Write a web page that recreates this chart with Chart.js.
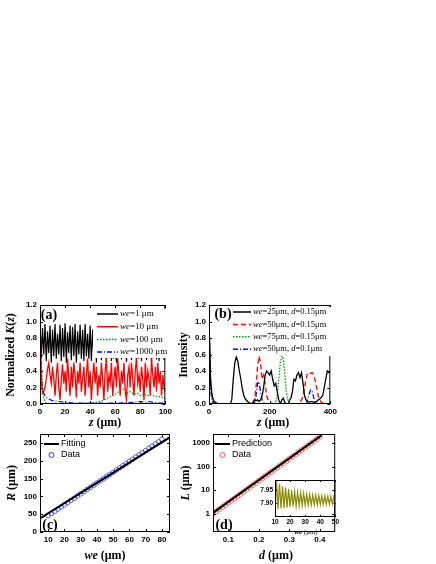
<!DOCTYPE html>
<html><head><meta charset="utf-8">
<script src="https://cdn.jsdelivr.net/npm/chart.js@4/dist/chart.umd.min.js"></script>
<style>body{margin:0;background:#fff;width:436px;height:564px;position:relative;overflow:hidden}canvas{position:absolute}</style>
</head><body>
<canvas id="ca" style="left:0;top:290px"></canvas>
<canvas id="cb" style="left:175px;top:290px"></canvas>
<canvas id="cc" style="left:0;top:420px"></canvas>
<canvas id="cd" style="left:175px;top:420px"></canvas>
<canvas id="ci" style="left:253px;top:474px"></canvas>
<script>
// ---- Panel (a) ----
const aStep = 1;
const aBlack = [0.98,0.55,0.92,0.6,0.97,0.52,0.88,0.62,0.95,0.5,0.9,0.58,0.97,0.55,0.85,0.6,0.96,0.52,0.92,0.57,0.98,0.5,0.87,0.62,0.95,0.53,0.93,0.58,0.97,0.5,0.88,0.6,0.96,0.55,0.9,0.52,0.97,0.58,0.85,0.55,0.95,0.52,0.9,0.57,0.96,0.5,0.88,0.6,0.94,0.53,0.97,0.56,0.86,0.51,0.93,0.58,0.97,0.52,0.9,0.55,0.95,0.5,0.88,0.6,0.96,0.54,0.92,0.57,0.98,0.51,0.87,0.56,0.95,0.53,0.93,0.58,0.97,0.5,0.89,0.55,0.96,0.52,0.91,0.57,0.97,0.53,0.86,0.56,0.95,0.51,0.92,0.57,0.97,0.54,0.88,0.52,0.95,0.56,0.9,0.53,0.96];
const aRed = [1.0,0.3,0.13,0.15,0.2,0.3,0.42,0.5,0.35,0.25,0.45,0.3,0.1,0.35,0.5,0.2,0.05,0.3,0.48,0.25,0.4,0.15,0.55,0.3,0.1,0.45,0.2,0.5,0.35,0.08,0.4,0.25,0.5,0.15,0.3,0.45,0.1,0.35,0.55,0.2,0.4,0.05,0.3,0.5,0.25,0.45,0.1,0.35,0.2,0.5,0.3,0.05,0.4,0.55,0.15,0.35,0.25,0.5,0.1,0.3,0.45,0.2,0.55,0.35,0.1,0.4,0.25,0.5,0.15,0.05,0.35,0.45,0.2,0.5,0.3,0.1,0.4,0.55,0.25,0.35,0.15,0.45,0.3,0.05,0.5,0.2,0.4,0.3,0.1,0.55,0.35,0.2,0.45,0.15,0.5,0.25,0.4,0.1,0.35,0.2,0.15];
const aGreenX = [0,1,2,3,4,5,8,15,25,35,45,50,55,58,60,63,66,68,70,72,75,78,80,83,86,88,90,95,100];
const aGreenY = [1.0,0.5,0.2,0.08,0.03,0.01,0.005,0.004,0.005,0.008,0.02,0.04,0.08,0.1,0.12,0.15,0.18,0.17,0.13,0.15,0.12,0.13,0.1,0.12,0.1,0.12,0.1,0.09,0.07];
const aBlueX = [0,1,2,3,4,5,7,10,15,20,25,30,40,50,60,70,75,80,85,88,90,95,100];
const aBlueY = [1,0.4,0.2,0.13,0.1,0.08,0.06,0.04,0.03,0.02,0.015,0.01,0.01,0.01,0.01,0.015,0.02,0.03,0.02,0.03,0.02,0.01,0.01];
// ---- Panel (b) ----
const bX = [0,5,10,15,20,25,30,40,60,70,75,80,85,90,95,100,105,110,115,120,125,130,135,140,145,150,155,160,165,170,175,180,185,190,195,200,205,210,215,220,225,230,235,240,245,250,255,260,265,270,275,280,285,290,295,300,305,310,315,320,325,330,335,340,345,350,355,360,365,370,375,380,385,390,395,400];
const bBlack = [1,0.3,0.1,0.04,0.02,0.01,0,0,0,0,0.05,0.3,0.5,0.57,0.52,0.4,0.3,0.18,0.1,0.06,0.04,0.02,0.01,0,0.02,0.05,0.04,0.05,0.03,0.05,0.1,0.2,0.35,0.4,0.38,0.35,0.4,0.3,0.22,0.25,0.15,0.05,0,0.05,0.07,0.02,0,0,0.04,0.07,0.15,0.3,0.28,0.35,0.38,0.32,0.38,0.25,0.1,0.05,0.03,0.02,0.03,0.03,0.02,0.02,0.03,0.05,0.06,0.08,0.1,0.2,0.3,0.4,0.38,0.4];
const bRed = [1,0.3,0.1,0.04,0.02,0.01,0,0,0,0,0,0,0,0,0,0,0,0,0,0,0,0,0,0,0.02,0.05,0.2,0.45,0.58,0.5,0.3,0.35,0.25,0.1,0.05,0.02,0.01,0,0,0,0,0,0,0,0,0,0,0,0,0,0,0,0,0,0,0.02,0.05,0.1,0.2,0.3,0.38,0.38,0.37,0.38,0.35,0.28,0.2,0.1,0.05,0.02,0.01,0.01,0,0,0,0];
const bGreen = [1,0.3,0.1,0.04,0.02,0.01,0,0,0,0,0,0,0,0,0,0,0,0,0,0,0,0,0,0,0,0,0,0,0,0,0,0,0,0,0,0,0,0,0,0.02,0.1,0.3,0.5,0.58,0.55,0.35,0.15,0.05,0.02,0,0,0,0,0,0,0,0,0,0,0,0,0,0,0,0,0,0,0,0,0,0,0,0,0,0,0];
const bBlue = [1,0.2,0.03,0.01,0,0,0,0,0,0,0,0,0,0,0,0,0,0,0,0,0,0,0,0,0,0.02,0.1,0.25,0.27,0.15,0.05,0.02,0,0,0,0,0,0,0,0,0,0,0,0,0,0,0,0,0,0,0,0,0,0,0,0,0,0,0,0,0.05,0.12,0.17,0.15,0.08,0.02,0.01,0,0,0,0,0,0,0,0,0];
// ---- Panel (c) ----
const cFitX = [5,85];
const cFitY = [38,266];
const cDataX = [10,12,14,16,18,20,22,24,26,28,30,32,34,36,38,40,42,44,46,48,50,52,54,56,58,60,62,64,66,68,70,72,74,76,78,80];
const cDataY = [46,52,58,64,70,76.5,82.5,88.5,94.5,101,107,113,119,125,131,137.5,143.5,149.5,155.5,161.5,167.5,174,180,186,192,198,204,210.5,216.5,222.5,228.5,235,241,247,253,260];
const cTicksY = [0,50,100,150,200,250];
const cTicksX = [10,20,30,40,50,60,70,80];
// ---- Panel (d) ----
const dPredX = [0.05,0.405];
const dPredY = [1.1,2100];
const dDataX = [0.05,0.06,0.07,0.08,0.09,0.10,0.11,0.12,0.13,0.14,0.15,0.16,0.17,0.18,0.19,0.20,0.21,0.22,0.23,0.24,0.25,0.26,0.27,0.28,0.29,0.30,0.31,0.32,0.33,0.34,0.35,0.36,0.37,0.38,0.39,0.40];
const dDataY = [1.0,1.24,1.54,1.9,2.36,2.92,3.62,4.49,5.56,6.89,8.54,10.6,13.1,16.2,20.1,24.9,30.9,38.3,47.4,58.8,72.8,90.2,112,139,172,213,264,327,405,502,622,770,955,1180,1465,1815];
const dTicksY = [1,10,100,1000];
const dTicksX = [0.1,0.2,0.3,0.4];
// ---- Inset ----
const iX0 = 10;
const iY = [7.87,7.985,7.875,7.975,7.878,7.965,7.88,7.96,7.882,7.955,7.884,7.95,7.886,7.945,7.887,7.942,7.888,7.94,7.889,7.937,7.89,7.935,7.89,7.933,7.891,7.931,7.892,7.93,7.892,7.929,7.893,7.928,7.893,7.927,7.894,7.926,7.894,7.925,7.895,7.924,7.895];
const iTicksY = [7.90,7.95];

const pts = (xs, ys) => ys.map((y,i)=>({x:xs[i], y}));
const stepPts = (x0, st, ys) => ys.map((y,i)=>({x:x0+i*st, y}));
const SERIF = '"Liberation Serif", "DejaVu Serif", serif';
const SANS = '"Liberation Sans", Arial, sans-serif';

function drawSegs(ctx, x, y, segs, size, family, align, rot){
  ctx.save();
  ctx.translate(x,y); if(rot) ctx.rotate(rot);
  ctx.textBaseline='middle'; ctx.fillStyle='#000';
  const f=s=>(s[1]?'italic ':'')+(s[2]===false?'':'bold ')+size+'px '+family;
  let total=0;
  segs.forEach(s=>{ctx.font=f(s); total+=ctx.measureText(s[0]).width;});
  let cx = align==='center'? -total/2 : 0;
  segs.forEach(s=>{ctx.font=f(s); ctx.textAlign='left'; ctx.fillText(s[0],cx,0); cx+=ctx.measureText(s[0]).width;});
  ctx.restore();
}

const frame = {
  id:'frame',
  afterDatasetsDraw(chart, args, o){
    const ctx=chart.ctx, a=chart.chartArea;
    ctx.save();
    ctx.strokeStyle='#000'; ctx.lineWidth=1;
    ctx.strokeRect(a.left+0.5,a.top+0.5,a.right-a.left-1,a.bottom-a.top-1);
    const tl = o.tl||3;
    ['x','y'].forEach(id=>{
      const s=chart.scales[id];
      s.ticks.forEach(t=>{
        const p=Math.round(s.getPixelForValue(t.value))+0.5;
        ctx.beginPath();
        if(id==='x'){ctx.moveTo(p,a.bottom);ctx.lineTo(p,a.bottom-tl);ctx.moveTo(p,a.top);ctx.lineTo(p,a.top+tl);}
        else{ctx.moveTo(a.left,p);ctx.lineTo(a.left+tl,p);ctx.moveTo(a.right,p);ctx.lineTo(a.right-tl,p);}
        ctx.stroke();
      });
    });
    if(o.legend){
      const L=o.legend;
      if(L.bg){ctx.fillStyle='#fff';ctx.fillRect(L.bg[0],L.bg[1],L.bg[2],L.bg[3]);}
      L.items.forEach((it,i)=>{
        const y=L.y+i*L.dy;
        ctx.strokeStyle=it.color; ctx.lineWidth=it.w||1.5; ctx.setLineDash(it.dash||[]);
        if(it.circle){ctx.beginPath();ctx.arc((L.x0+L.x1)/2,y,2.5,0,Math.PI*2);ctx.lineWidth=1;ctx.stroke();}
        else{ctx.beginPath();ctx.moveTo(L.x0,y);ctx.lineTo(L.x1,y);ctx.stroke();}
        ctx.setLineDash([]);
        drawSegs(ctx,L.tx,y,it.segs,L.size,L.family,'left');
      });
    }
    (o.texts||[]).forEach(t=>drawSegs(ctx,t.x,t.y,t.segs,t.size,t.family||SERIF,'center',t.rot));
    ctx.restore();
  }
};

function mk(id, w, h, datasets, sx, sy, layout, fx, fy, frameOpts, tickSize){
  const cv=document.getElementById(id); cv.width=w; cv.height=h; cv.style.width=w+'px'; cv.style.height=h+'px';
  const tf={family:SANS, weight:'bold', size:tickSize||8};
  const g={display:false,drawTicks:false,tickLength:0};
  new Chart(cv,{type:'line',data:{datasets},plugins:[frame],options:{
    responsive:false, animation:false, devicePixelRatio:1,
    layout:{padding:layout},
    plugins:{legend:{display:false},tooltip:{enabled:false},frame:frameOpts},
    elements:{point:{radius:0},line:{tension:0}},
    scales:{
      x:Object.assign({grid:g,border:{display:false},afterFit:s=>{s.height=fx;}},sx,{ticks:Object.assign({color:'#000',font:tf,maxRotation:0,padding:3},sx.ticks||{})}),
      y:Object.assign({grid:g,border:{display:false},afterFit:s=>{s.width=fy;}},sy,{ticks:Object.assign({color:'#000',font:tf,padding:3},sy.ticks||{})})
    }}});
}
const ln=(data,color,dash,w)=>({data,borderColor:color,borderDash:dash||[],borderWidth:w||1.2,pointRadius:0,fill:false});
const fixTicks=arr=>s=>{s.ticks=arr.map(v=>({value:v}));};

// (a)
mk('ca',175,142,[
  ln(stepPts(0,aStep,aRed),'#ff0000',[],1.3),
  ln(stepPts(0,aStep,aBlack),'#000000',[],1.2),
  ln(pts(aGreenX,aGreenY),'#009900',[1.5,1.5],1.2),
  ln(pts(aBlueX,aBlueY),'#0000ff',[5,2,1,2],1.2)
],{type:'linear',min:0,max:100,ticks:{stepSize:20}},
 {type:'linear',min:0,max:1.2,ticks:{stepSize:0.2,callback:v=>v.toFixed(1)}},
 {top:15,right:5,left:0,bottom:0},28,40,
 {legend:{bg:[93,19,77,49],x0:97,x1:118,tx:120,y:24,dy:12.7,size:9,family:SERIF,items:[
   {color:'#000',segs:[['we',true,false],['=1 μm',false,false]]},
   {color:'#ff0000',segs:[['we',true,false],['=10 μm',false,false]]},
   {color:'#009900',dash:[1.5,1.5],segs:[['we',true,false],['=100 μm',false,false]]},
   {color:'#0000ff',dash:[5,2,1,2],segs:[['we',true,false],['=1000 μm',false,false]]}]},
  texts:[{x:49,y:25,segs:[['(a)']],size:14},
   {x:11,y:65,rot:-Math.PI/2,segs:[['Normalized '],['K',true],['('],['z',true],[')']],size:12},
   {x:105,y:133,segs:[['z',true],[' (μm)']],size:12}]});

// (b)
mk('cb',165,142,[
  ln(pts(bX,bBlack),'#000000',[],1.3),
  ln(pts(bX,bRed),'#ff0000',[5,3],1.3),
  ln(pts(bX,bGreen),'#009900',[1.5,1.5],1.3),
  ln(pts(bX,bBlue),'#0000ff',[5,2,1,2],1.3)
],{type:'linear',min:0,max:400,ticks:{stepSize:200}},
 {type:'linear',min:0,max:1.2,ticks:{stepSize:0.2,callback:v=>v.toFixed(1)}},
 {top:15,right:2,left:0,bottom:0},28,34,
 {legend:{bg:[55,17,108,49],x0:58,x1:76,tx:78,y:22,dy:12.4,size:8.5,family:SERIF,items:[
   {color:'#000',segs:[['we',true,false],['=25μm, ',false,false],['d',true,false],['=0.15μm',false,false]]},
   {color:'#ff0000',dash:[5,3],segs:[['we',true,false],['=50μm, ',false,false],['d',true,false],['=0.15μm',false,false]]},
   {color:'#009900',dash:[1.5,1.5],segs:[['we',true,false],['=75μm, ',false,false],['d',true,false],['=0.15μm',false,false]]},
   {color:'#0000ff',dash:[5,2,1,2],segs:[['we',true,false],['=50μm, ',false,false],['d',true,false],['=0.1μm',false,false]]}]},
  texts:[{x:48,y:24,segs:[['(b)']],size:14},
   {x:9,y:65,rot:-Math.PI/2,segs:[['Intensity']],size:12},
   {x:98,y:133,segs:[['z',true],[' (μm)']],size:12}]});

// (c)
mk('cc',175,144,[
  ln(pts(cFitX,cFitY),'#000000',[],2),
  {data:pts(cDataX,cDataY),borderColor:'#0000ff',showLine:false,pointRadius:2.3,pointStyle:'circle',pointBorderWidth:0.8,pointBackgroundColor:'rgba(0,0,0,0)',pointBorderColor:'#3333ff'}
],{type:'linear',min:5,max:85,afterBuildTicks:fixTicks(cTicksX)},
 {type:'linear',min:0,max:275,afterBuildTicks:fixTicks(cTicksY)},
 {top:14,right:5,left:0,bottom:0},32,40,
 {legend:{x0:44,x1:59,tx:61,y:24,dy:11,size:9,family:SANS,items:[
   {color:'#000',w:2,segs:[['Fitting',false,false]]},
   {color:'#3333ff',circle:true,segs:[['Data',false,false]]}]},
  texts:[{x:50,y:105,segs:[['(c)']],size:14},
   {x:12,y:63,rot:-Math.PI/2,segs:[['R',true],[' (μm)']],size:12},
   {x:105,y:136,segs:[['we',true],[' (μm)']],size:12}]});

// (d)
mk('cd',165,144,[
  ln(pts(dPredX,dPredY),'#000000',[],2),
  {data:pts(dDataX,dDataY),borderColor:'#ff0000',showLine:false,pointRadius:2.5,pointBorderWidth:0.8,pointBackgroundColor:'rgba(0,0,0,0)',pointBorderColor:'#ff5555'}
],{type:'linear',min:0.05,max:0.45,afterBuildTicks:fixTicks(dTicksX),ticks:{callback:v=>v.toFixed(1)}},
 {type:'logarithmic',min:0.17,max:2400,afterBuildTicks:fixTicks(dTicksY),ticks:{callback:v=>String(v)}},
 {top:14,right:1,left:0,bottom:0},32,38,
 {legend:{x0:40,x1:55,tx:57,y:24,dy:11,size:9,family:SANS,items:[
   {color:'#000',w:2,segs:[['Prediction',false,false]]},
   {color:'#ff5555',circle:true,segs:[['Data',false,false]]}]},
  texts:[{x:49,y:105,segs:[['(d)']],size:14},
   {x:11,y:63,rot:-Math.PI/2,segs:[['L',true],[' (μm)']],size:12},
   {x:101,y:136,segs:[['d',true],[' (μm)']],size:12}]});

// inset
mk('ci',87,64,[
  ln(stepPts(iX0,1,iY),'#8a8a00',[],1.2)
],{type:'linear',min:10,max:50,ticks:{stepSize:10,padding:1}},
 {type:'linear',min:7.844,max:7.99,afterBuildTicks:fixTicks(iTicksY),ticks:{callback:v=>v.toFixed(2),padding:2}},
 {top:6,right:3,left:0,bottom:0},21,22,
 {tl:2,texts:[{x:53,y:58,segs:[['we',true],[' (μm)',false,false]],size:7}]},6.5);
</script>
</body></html>
